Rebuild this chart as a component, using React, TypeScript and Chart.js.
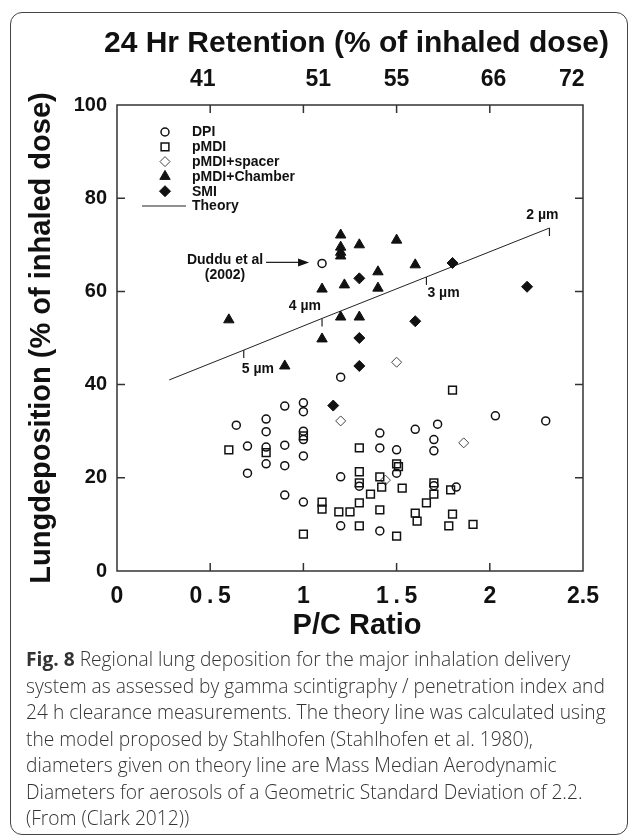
import React, { useEffect, useRef } from 'react';
import { Chart, registerables } from 'chart.js';
import { drawPoint } from 'chart.js/helpers';

Chart.register(...registerables);

// ---------- data ----------
const dpiX = [1.1, 1.2, 0.9, 1.0, 1.0, 0.8, 0.64, 0.8, 1.0, 1.0, 0.7, 0.8, 0.8, 0.9, 1.0, 0.9, 0.7, 1.2, 0.9, 1.0, 1.2, 2.03, 2.3, 1.41, 1.6, 1.72, 1.7, 1.7, 1.41, 1.5, 1.5, 1.3, 1.7, 1.82, 1.41];
const dpiY = [66, 41.6, 35.4, 36.1, 34.2, 32.6, 31.3, 29.9, 30.0, 28.2, 26.8, 26.6, 23.0, 27.0, 24.7, 22.6, 21.0, 20.2, 16.3, 14.8, 9.7, 33.3, 32.2, 29.6, 30.4, 31.5, 28.2, 25.8, 26.4, 26.0, 21.0, 18.2, 18.3, 18.0, 8.6];

const pmdiX = [0.6, 0.8, 1.0, 1.0, 1.1, 1.1, 1.19, 1.25, 1.3, 1.3, 1.3, 1.3, 1.3, 1.41, 1.42, 1.36, 1.53, 1.5, 1.51, 1.41, 1.5, 1.6, 1.61, 1.66, 1.7, 1.7, 1.79, 1.8, 1.78, 1.91, 1.8];
const pmdiY = [26.0, 25.4, 29.0, 7.9, 14.8, 13.3, 12.7, 12.7, 26.4, 21.3, 18.9, 14.6, 9.7, 20.2, 18.0, 16.5, 17.8, 23.0, 22.4, 13.1, 7.5, 12.4, 10.7, 14.6, 18.9, 16.5, 17.4, 12.2, 9.7, 10.0, 38.8];

const spacerX = [1.2, 1.5, 1.86, 1.44];
const spacerY = [32.2, 44.8, 27.5, 19.5];

const chamberX = [0.6, 0.9, 1.1, 1.1, 1.2, 1.2, 1.2, 1.2, 1.22, 1.2, 1.3, 1.3, 1.4, 1.4, 1.5, 1.6];
const chamberY = [53.9, 44.0, 60.5, 49.8, 72.1, 69.5, 68.4, 67.6, 61.4, 54.5, 70.0, 54.5, 64.2, 60.7, 71.0, 65.7];

const smiX = [1.16, 1.3, 1.3, 1.3, 1.6, 1.8, 2.2];
const smiY = [35.5, 44.0, 50.0, 62.8, 53.6, 66.1, 61.0];

const theoryX = [0.28, 0.68, 1.1, 1.66, 2.32];
const theoryY = [41.0, 47.4, 54.2, 63.1, 73.6];
const theorySizeLabels = ['', '5 µm', '4 µm', '3 µm', '2 µm'];

const seriesLabels = ['DPI', 'pMDI', 'pMDI+spacer', 'pMDI+Chamber', 'SMI', 'Theory'];

const xTickLabels = ['0', '0\u2009.\u20095', '1', '1\u2009.\u20095', '2', '2.5'];
const retentionPos = [0.46, 1.08, 1.5, 2.02, 2.44];
const retentionLabels = ['41', '51', '55', '66', '72'];

const dudduX = 1.1;
const dudduY = 66;
const dudduText = ['Duddu et al', '(2002)'];

const topTitle = '24 Hr Retention (% of inhaled dose)';
const xTitle = 'P/C Ratio';
const yTitle = 'Lungdeposition (% of inhaled dose)';

const captionLines = [
  'Regional lung deposition for the major inhalation delivery',
  'system as assessed by gamma scintigraphy / penetration index and',
  '24 h clearance measurements. The theory line was calculated using',
  'the model proposed by Stahlhofen (Stahlhofen et al. 1980),',
  'diameters given on theory line are Mass Median Aerodynamic',
  'Diameters for aerosols of a Geometric Standard Deviation of 2.2.',
  '(From (Clark 2012))',
];

// ---------- helpers ----------
const zip = (xs: number[], ys: number[]) => xs.map((x, i) => ({ x, y: ys[i] }));
const FONT = '"Liberation Sans", Arial, sans-serif';
const INK = '#111';

const framePlugin = {
  id: 'frameTicks',
  afterDraw(chart: any) {
    const { ctx, chartArea: a, scales } = chart;
    ctx.save();
    ctx.strokeStyle = '#333';
    ctx.lineWidth = 1.5;
    ctx.strokeRect(a.left, a.top, a.right - a.left, a.bottom - a.top);
    ctx.beginPath();
    const L = 8;
    scales.x.ticks.forEach((t: any) => {
      const px = scales.x.getPixelForValue(t.value);
      if (px <= a.left + 1 || px >= a.right - 1) return;
      ctx.moveTo(px, a.bottom);
      ctx.lineTo(px, a.bottom - L);
      ctx.moveTo(px, a.top);
      ctx.lineTo(px, a.top + L);
    });
    scales.y.ticks.forEach((t: any) => {
      const py = scales.y.getPixelForValue(t.value);
      if (py <= a.top + 1 || py >= a.bottom - 1) return;
      ctx.moveTo(a.left, py);
      ctx.lineTo(a.left + L, py);
      ctx.moveTo(a.right, py);
      ctx.lineTo(a.right - L, py);
    });
    ctx.stroke();

    // titles
    ctx.fillStyle = INK;
    ctx.textAlign = 'center';
    ctx.textBaseline = 'alphabetic';
    const cx = (a.left + a.right) / 2;
    ctx.font = `bold 30px ${FONT}`;
    ctx.fillText(topTitle, cx + 6.5, 40);
    ctx.font = `bold 29px ${FONT}`;
    ctx.fillText(xTitle, cx + 7, a.bottom + 63);
    ctx.restore();
  },
};

const legendPlugin = {
  id: 'insideLegend',
  afterDatasetsDraw(chart: any) {
    const { ctx, chartArea: a } = chart;
    ctx.save();
    ctx.font = `bold 14px ${FONT}`;
    ctx.textBaseline = 'middle';
    ctx.textAlign = 'left';
    chart.data.datasets.forEach((ds: any, i: number) => {
      const y = a.top + 27 + i * 14.8;
      const sx = a.left + 48;
      if (ds.showLine) {
        ctx.strokeStyle = ds.borderColor;
        ctx.lineWidth = 1.2;
        ctx.beginPath();
        ctx.moveTo(a.left + 25, y);
        ctx.lineTo(a.left + 69, y);
        ctx.stroke();
      } else {
        ctx.fillStyle = ds.backgroundColor;
        ctx.strokeStyle = ds.borderColor;
        ctx.lineWidth = ds.borderWidth;
        drawPoint(ctx, { pointStyle: ds.pointStyle, radius: ds.pointRadius, rotation: 0, borderWidth: ds.borderWidth } as any, sx, y);
      }
      ctx.fillStyle = INK;
      ctx.fillText(ds.label, a.left + 75, y + 0.5);
    });
    ctx.restore();
  },
};

const sizeLabelOffsets = [
  null,
  { dx: -2, dy: 19, align: 'left' },
  { dx: -1, dy: -12, align: 'right' },
  { dx: 1, dy: 16, align: 'left' },
  { dx: -7, dy: -13, align: 'center' },
];

const annotationPlugin = {
  id: 'annotations',
  afterDatasetsDraw(chart: any) {
    const { ctx, scales } = chart;
    const meta = chart.getDatasetMeta(5);
    ctx.save();
    ctx.strokeStyle = '#222';
    ctx.fillStyle = INK;
    ctx.lineWidth = 1.2;
    ctx.font = `bold 14px ${FONT}`;
    ctx.textBaseline = 'middle';
    meta.data.forEach((pt: any, i: number) => {
      const lab = theorySizeLabels[i];
      const off = sizeLabelOffsets[i];
      if (!lab || !off) return;
      ctx.beginPath();
      ctx.moveTo(pt.x, pt.y);
      ctx.lineTo(pt.x, pt.y + 8);
      ctx.stroke();
      ctx.textAlign = off.align;
      ctx.fillText(lab, pt.x + off.dx, pt.y + off.dy);
    });

    // Duddu et al arrow
    const px = scales.x.getPixelForValue(dudduX);
    const py = scales.y.getPixelForValue(dudduY);
    ctx.textAlign = 'center';
    ctx.fillText(dudduText[0], px - 97, py - 3);
    ctx.fillText(dudduText[1], px - 97, py + 12);
    const tipX = px - 13;
    const ay = py - 1;
    ctx.beginPath();
    ctx.moveTo(px - 56, ay);
    ctx.lineTo(tipX - 6, ay);
    ctx.stroke();
    ctx.beginPath();
    ctx.moveTo(tipX, ay);
    ctx.lineTo(tipX - 11, ay - 4);
    ctx.lineTo(tipX - 11, ay + 4);
    ctx.closePath();
    ctx.fill();
    ctx.restore();
  },
};

export default function App() {
  const ref = useRef<HTMLCanvasElement>(null);

  useEffect(() => {
    if (!ref.current) return;
    const tickFont = (size: number) => ({ family: FONT, size, weight: 'bold' as const });
    const chart = new Chart(ref.current, {
      type: 'scatter',
      data: {
        datasets: [
          { label: seriesLabels[0], data: zip(dpiX, dpiY), pointStyle: 'circle', pointRadius: 4, backgroundColor: 'rgba(0,0,0,0)', borderColor: INK, borderWidth: 1.5 },
          { label: seriesLabels[1], data: zip(pmdiX, pmdiY), pointStyle: 'rect', pointRadius: 5.5, backgroundColor: 'rgba(0,0,0,0)', borderColor: INK, borderWidth: 1.5 },
          { label: seriesLabels[2], data: zip(spacerX, spacerY), pointStyle: 'rectRot', pointRadius: 5, backgroundColor: 'rgba(0,0,0,0)', borderColor: '#444', borderWidth: 1 },
          { label: seriesLabels[3], data: zip(chamberX, chamberY), pointStyle: 'triangle', pointRadius: 6, backgroundColor: INK, borderColor: INK, borderWidth: 1 },
          { label: seriesLabels[4], data: zip(smiX, smiY), pointStyle: 'rectRot', pointRadius: 5.5, backgroundColor: INK, borderColor: INK, borderWidth: 1 },
          { label: seriesLabels[5], data: zip(theoryX, theoryY), showLine: true, pointRadius: 0, borderColor: '#222', borderWidth: 1, backgroundColor: '#222', fill: false },
        ] as any,
      },
      options: {
        responsive: false,
        maintainAspectRatio: false,
        animation: false,
        events: [],
        layout: { padding: { left: 0, right: 45, top: 0, bottom: 0 }, autoPadding: false },
        plugins: { legend: { display: false }, tooltip: { enabled: false } },
        scales: {
          x: {
            type: 'linear',
            position: 'bottom',
            min: 0,
            max: 2.5,
            grid: { display: false, drawTicks: false },
            border: { display: false },
            ticks: {
              stepSize: 0.5,
              autoSkip: false,
              maxRotation: 0,
              padding: 12,
              color: INK,
              font: tickFont(23),
              callback: (_v: any, i: number) => xTickLabels[i],
            },
            afterFit: (s: any) => { s.height = 81; },
          },
          x2: {
            type: 'linear',
            position: 'top',
            min: 0,
            max: 2.5,
            grid: { display: false, drawTicks: false },
            border: { display: false },
            afterBuildTicks: (s: any) => { s.ticks = retentionPos.map((v) => ({ value: v })); },
            ticks: {
              autoSkip: false,
              maxRotation: 0,
              padding: 12,
              color: INK,
              font: tickFont(23),
              callback: (_v: any, i: number) => retentionLabels[i],
            },
            afterFit: (s: any) => { s.height = 93; },
          },
          y: {
            type: 'linear',
            position: 'left',
            min: 0,
            max: 100,
            grid: { display: false, drawTicks: false },
            border: { display: false },
            ticks: { stepSize: 20, padding: 10, color: INK, font: tickFont(20) },
            title: { display: true, text: yTitle, color: INK, font: { family: FONT, size: 29, weight: 'bold' }, padding: { top: 15, bottom: 0 } },
            afterFit: (s: any) => { s.width = 107; },
          },
        },
      } as any,
      plugins: [framePlugin, legendPlugin, annotationPlugin],
    });
    return () => chart.destroy();
  }, []);

  return (
    <>
      <div
        style={{
          position: 'absolute',
          left: 10,
          top: 12,
          width: 618,
          height: 823,
          boxSizing: 'border-box',
          border: '1.5px solid #444',
          borderRadius: 12,
        }}
      />
      <canvas
        ref={ref}
        width={618}
        height={640}
        style={{ position: 'absolute', left: 10, top: 12, width: 618, height: 640 }}
      />
      <div
        style={{
          position: 'absolute',
          left: 26,
          top: 646,
          fontFamily: '"Open Sans", sans-serif',
          fontWeight: 300,
          fontSize: '19.2px',
          lineHeight: '26.5px',
          color: '#333',
          whiteSpace: 'nowrap',
        }}
      >
        {captionLines.map((line, i) => (
          <div key={i}>
            {i === 0 ? <b style={{ fontWeight: 700 }}>Fig. 8 </b> : null}
            {line}
          </div>
        ))}
      </div>
    </>
  );
}
